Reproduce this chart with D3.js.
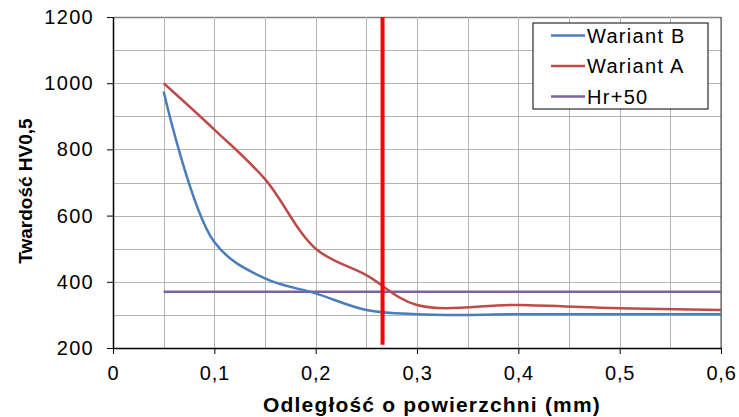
<!DOCTYPE html>
<html>
<head>
<meta charset="utf-8">
<script src="https://cdn.jsdelivr.net/npm/d3@7"></script>
<style>
  body { margin: 0; background: #fff; }
  text { font-family: "Liberation Sans", Arial, sans-serif; }
</style>
</head>
<body>
<svg id="chart"></svg>
<script>
// depth (mm) and hardness values
var depthB = [0.05, 0.1, 0.15, 0.2, 0.25, 0.3, 0.35, 0.4, 0.5, 0.6];
var wariantB = [975, 520, 410, 365, 315, 302, 300, 302, 302, 302];
var depthA = [0.05, 0.1, 0.15, 0.2, 0.25, 0.3, 0.4, 0.5, 0.6];
var wariantA = [1000, 860, 710, 500, 420, 330, 330, 320, 315];
var depthHr = [0.05, 0.6];
var hr50 = [370, 370];
var markerX = [0.266, 0.266];
var markerY = [210, 1200];

var xTicks = [0, 0.1, 0.2, 0.3, 0.4, 0.5, 0.6];
var yTicks = [200, 400, 600, 800, 1000, 1200];
var legendNames = ["Wariant B", "Wariant A", "Hr+50"];

var width = 739, height = 417;
var margins = {top: 17, bottom: 69, left: 113, right: 18};

var svg = d3.select("#chart")
            .attr("width", width)
            .attr("height", height);

var xScale = d3.scaleLinear()
               .domain([0, 0.6])
               .range([margins.left, width - margins.right]);

var yScale = d3.scaleLinear()
               .domain([200, 1200])
               .range([height - margins.bottom, margins.top]);

// grid
var grid = svg.append("g").attr("stroke", "#b4b4b4").attr("stroke-width", 1);
grid.selectAll("line.h")
    .data(d3.range(300, 1201, 100))
    .enter().append("line")
    .attr("x1", xScale(0)).attr("x2", xScale(0.6))
    .attr("y1", function(d){ return Math.round(yScale(d)) + 0.5; })
    .attr("y2", function(d){ return Math.round(yScale(d)) + 0.5; })
    .attr("stroke", function(d){ return d == 1200 ? "#808080" : "#b4b4b4"; })
    .attr("stroke-width", function(d){ return d == 1200 ? 1.5 : 1; });
grid.selectAll("line.v")
    .data(d3.range(1, 13).map(function(i){ return i * 0.05; }))
    .enter().append("line")
    .attr("y1", yScale(200)).attr("y2", yScale(1200))
    .attr("x1", function(d){ return Math.round(xScale(d)) + 0.5; })
    .attr("x2", function(d){ return Math.round(xScale(d)) + 0.5; });

// right border
svg.append("line")
   .attr("x1", xScale(0.6)).attr("x2", xScale(0.6))
   .attr("y1", yScale(200)).attr("y2", yScale(1200))
   .attr("stroke", "#404040").attr("stroke-width", 1);

// axes
var xAxis = d3.axisBottom(xScale)
              .tickValues(xTicks)
              .tickSize(6)
              .tickSizeOuter(0)
              .tickFormat(function(d){ return d3.format(".1~f")(d).replace(".", ","); });
var gx = svg.append("g")
            .attr("transform", "translate(0," + yScale(200) + ")")
            .call(xAxis);
gx.selectAll("text").attr("font-size", 20).attr("fill", "#000").attr("dy", "1.15em")
  .attr("letter-spacing", 0.8)
  .attr("font-family", "Liberation Sans, Arial, sans-serif");

var yAxis = d3.axisLeft(yScale)
              .tickValues(yTicks)
              .tickSize(6)
              .tickSizeOuter(0)
              .tickPadding(13)
              .tickFormat(d3.format("d"));
var gy = svg.append("g")
            .attr("transform", "translate(" + xScale(0) + ",0)")
            .call(yAxis);
gy.selectAll("text").attr("font-size", 20).attr("fill", "#000")
  .attr("letter-spacing", 1.3)
  .attr("font-family", "Liberation Sans, Arial, sans-serif");
svg.selectAll(".domain").attr("stroke", "#000").attr("stroke-width", 1.5);
svg.selectAll(".tick line").attr("stroke", "#000");

// series
var line = d3.line()
             .x(function(d){ return xScale(d[0]); })
             .y(function(d){ return yScale(d[1]); })
             .curve(d3.curveCatmullRom.alpha(0.5));
var straight = d3.line()
             .x(function(d){ return xScale(d[0]); })
             .y(function(d){ return yScale(d[1]); });

var series = [
  {name: "Wariant B", xs: depthB, ys: wariantB, color: "#4a7ebb", gen: line},
  {name: "Wariant A", xs: depthA, ys: wariantA, color: "#be4b48", gen: line},
  {name: "Hr+50", xs: depthHr, ys: hr50, color: "#7d60a0", gen: straight}
];

svg.append("g").selectAll("path")
   .data([series[2], series[0], series[1]])
   .enter().append("path")
   .attr("d", function(s){ return s.gen(d3.zip(s.xs, s.ys)); })
   .attr("fill", "none")
   .attr("stroke", function(s){ return s.color; })
   .attr("stroke-width", 2.5);

// red marker line
svg.append("path")
   .attr("d", straight(d3.zip(markerX, markerY)))
   .attr("stroke", "#ff0000")
   .attr("stroke-width", 4)
   .attr("fill", "none");

// legend
var legend = svg.append("g").attr("transform", "translate(533,23)");
legend.append("rect")
      .attr("width", 175).attr("height", 86)
      .attr("fill", "#fff").attr("stroke", "#000").attr("stroke-width", 1);
var items = legend.selectAll("g.item")
      .data(legendNames)
      .enter().append("g")
      .attr("transform", function(d, i){ return "translate(0," + (12.5 + i * 30.5) + ")"; });
items.append("line")
     .attr("x1", 18).attr("x2", 52)
     .attr("stroke", function(d){ return series.find(function(s){ return s.name == d; }).color; })
     .attr("stroke-width", 2.5);
items.append("text")
     .attr("x", 54).attr("dy", "0.35em")
     .attr("font-size", 20)
     .attr("letter-spacing", 1.3)
     .text(function(d){ return d; });

// titles
svg.append("text")
   .attr("x", 432)
   .attr("y", 412)
   .attr("text-anchor", "middle")
   .attr("font-size", 21).attr("font-weight", "bold")
   .attr("letter-spacing", 1.2)
   .text("Odległość o powierzchni (mm)");
svg.append("text")
   .attr("transform", "translate(32,191) rotate(-90)")
   .attr("text-anchor", "middle")
   .attr("font-size", 19).attr("font-weight", "bold")
   .text("Twardość HV0,5");
</script>
</body>
</html>
